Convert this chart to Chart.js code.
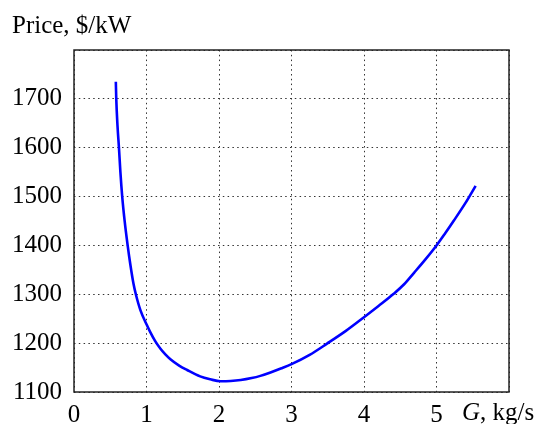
<!DOCTYPE html>
<html>
<head>
<meta charset="utf-8">
<script src="https://cdn.jsdelivr.net/npm/chart.js@4/dist/chart.umd.min.js"></script>
<style>
  html, body { margin: 0; padding: 0; background: #fff; }
  #wrap { width: 540px; height: 424px; }
</style>
</head>
<body>
<div id="wrap"><canvas id="priceChart" width="540" height="424"></canvas></div>
<script>
// flow rate G, kg/s
const flowRate = [0.577, 0.583, 0.60, 0.62, 0.64, 0.665, 0.70, 0.74, 0.775, 0.82, 0.853, 0.917, 1.005, 1.05, 1.12, 1.19, 1.26, 1.33, 1.45, 1.56, 1.74, 1.88, 2.02, 2.16, 2.30, 2.45, 2.57, 2.71, 2.85, 3.0, 3.25, 3.49, 3.75, 4.0, 4.2, 4.41, 4.55, 4.69, 4.85, 5.0, 5.12, 5.24, 5.4, 5.54];
// price, $/kW
const price = [1735, 1700, 1645, 1600, 1550, 1500, 1448, 1400, 1363, 1322, 1300, 1267, 1237, 1223, 1204, 1189, 1177, 1167, 1154, 1145, 1132, 1126, 1122, 1122.5, 1124.5, 1128.5, 1133, 1140, 1148, 1157, 1176, 1199, 1225, 1253, 1276, 1301, 1320, 1344, 1372, 1400, 1425, 1451, 1487, 1522];
const xTicks = [0, 1, 2, 3, 4, 5];
const yTicks = [1100, 1200, 1300, 1400, 1500, 1600, 1700];

const serif = "'Liberation Serif', 'Times New Roman', serif";

const framePlugin = {
  id: "frame",
  afterDraw(chart) {
    const { ctx, chartArea: a } = chart;
    ctx.save();
    ctx.strokeStyle = "#222";
    ctx.lineWidth = 1.5;
    ctx.strokeRect(a.left, a.top, a.right - a.left, a.bottom - a.top);
    ctx.fillStyle = "#000";
    ctx.textBaseline = "alphabetic";
    ctx.font = "25px " + serif;
    ctx.fillText("Price, $/kW", 12, 33);
    ctx.font = "italic 25px " + serif;
    ctx.fillText("G", 462, 420);
    const gw = ctx.measureText("G").width;
    ctx.font = "25px " + serif;
    ctx.fillText(", kg/s", 462 + gw, 420);
    ctx.restore();
  },
};

new Chart(document.getElementById("priceChart"), {
  type: "line",
  data: {
    datasets: [{
      data: flowRate.map((g, i) => ({ x: g, y: price[i] })),
      borderColor: "#0000ff",
      borderWidth: 2.6,
      pointRadius: 0,
      cubicInterpolationMode: "monotone",
      fill: false,
    }],
  },
  options: {
    responsive: false,
    animation: false,
    layout: { padding: { top: 50, right: 31, left: 0, bottom: 0 } },
    plugins: { legend: { display: false }, tooltip: { enabled: false } },
    scales: {
      x: {
        type: "linear",
        min: 0,
        max: 6,
        afterBuildTicks: (s) => { s.ticks = xTicks.concat([6]).map((v) => ({ value: v })); },
        afterFit: (s) => { s.height = 32; },
        ticks: {
          color: "#000",
          font: { family: serif, size: 25 },
          padding: 8,
          maxRotation: 0,
          callback: (v) => (xTicks.includes(v) ? String(v) : ""),
        },
        grid: { color: "#333", drawTicks: false, lineWidth: 1 },
        border: { display: false, dash: [1.5, 3.3] },
      },
      y: {
        type: "linear",
        min: 1100,
        max: 1800,
        afterBuildTicks: (s) => { s.ticks = yTicks.concat([1800]).map((v) => ({ value: v })); },
        afterFit: (s) => { s.width = 74; },
        ticks: {
          color: "#000",
          font: { family: serif, size: 25 },
          padding: 12,
          callback: (v) => (yTicks.includes(v) ? String(v) : ""),
        },
        grid: { color: "#333", drawTicks: false, lineWidth: 1 },
        border: { display: false, dash: [1.5, 3.3] },
      },
    },
  },
  plugins: [framePlugin],
});
</script>
</body>
</html>
